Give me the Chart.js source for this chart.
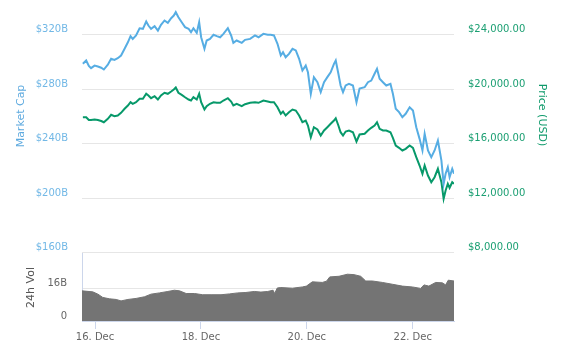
<!DOCTYPE html>
<html>
<head>
<meta charset="utf-8">
<script src="https://cdn.jsdelivr.net/npm/chart.js@4/dist/chart.umd.min.js"></script>
<style>
  html, body { margin: 0; padding: 0; background: #fff; }
  #wrap { position: relative; width: 563px; height: 349px; overflow: hidden; }
  #main { position: absolute; left: 0; top: 0; }
  #vol { position: absolute; left: 0; top: 250px; }
</style>
</head>
<body>
<div id="wrap">
  <canvas id="main" width="563" height="260"></canvas>
  <canvas id="vol" width="563" height="99"></canvas>
</div>
<script>
// Hours since 16 Dec 00:00 for the market-cap / price samples
const hours = [
  -5.5, -4.0, -2.8, -1.8, -0.2, 1.3, 2.8, 4.0, 5.8, 7.3,
  8.8, 10.3, 11.8, 13.4, 14.9, 16.1, 17.1, 18.6, 20.2, 21.7,
  23.2, 24.2, 25.4, 27.0, 28.5, 29.9, 31.5, 33.0, 34.5, 35.7,
  36.6, 37.8, 39.3, 40.8, 42.4, 43.5, 44.6, 46.1, 47.2, 48.1,
  49.6, 50.6, 52.1, 53.7, 55.2, 56.7, 58.2, 60.2, 61.7, 62.7,
  64.2, 66.5, 68.0, 70.3, 72.5, 74.1, 76.3, 78.3, 79.6, 81.1,
  82.7, 84.2, 85.2, 86.4, 87.9, 89.5, 91.0, 92.5, 94.0, 95.5,
  96.5, 97.8, 99.2, 100.8, 102.3, 103.8, 105.3, 106.8, 108.3, 109.1,
  110.3, 111.3, 112.4, 113.6, 115.1, 116.9, 118.5, 119.9, 122.2, 123.7,
  125.2, 126.7, 127.8, 129.0, 130.5, 132.0, 133.9, 135.0, 136.3, 137.8,
  139.3, 140.8, 142.6, 144.1, 145.6, 147.1, 148.4, 149.4, 150.9, 152.4,
  153.9, 155.4, 156.2, 157.0, 158.0, 158.9, 159.9, 160.7, 161.9, 162.7
];

// Market capitalisation, billions of USD
const marketCapB = [
  298.5, 300.9, 296.9, 295.3, 297.2, 296.5, 295.6, 294.3, 297.8, 302.2,
  301.4, 302.6, 304.6, 309.5, 314.3, 318.8, 316.8, 319.3, 324.6, 324.2,
  329.5, 326.6, 324.2, 326.1, 322.9, 327.1, 330.3, 328.6, 332.0, 333.9,
  336.4, 332.7, 329.0, 325.4, 324.2, 321.7, 324.6, 321.2, 329.0, 318.0,
  309.5, 315.6, 316.8, 319.8, 318.8, 318.0, 320.5, 324.6, 319.3, 313.9,
  315.6, 313.9, 316.1, 316.8, 319.3, 318.0, 320.5, 319.8, 319.8, 319.3,
  313.2, 304.6, 307.0, 303.3, 305.8, 309.5, 308.3, 302.2, 293.6, 297.2,
  292.3, 276.5, 288.7, 285.0, 277.7, 285.0, 288.7, 292.3, 298.5, 300.9,
  291.2, 282.6, 277.7, 282.6, 283.8, 282.6, 270.3, 280.4, 281.3, 285.0,
  286.2, 291.2, 294.8, 287.5, 285.0, 282.6, 283.8, 276.5, 265.5, 263.0,
  259.3, 261.8, 266.6, 264.2, 252.0, 243.4, 234.9, 247.1, 234.9, 229.9,
  234.9, 242.2, 234.9, 227.5, 210.4, 217.8, 222.6, 215.3, 221.4, 217.8
];

// Price, USD
const priceUsd = [
  17930, 17930, 17725, 17725, 17762, 17725, 17651, 17563, 17813, 18106,
  18004, 18055, 18253, 18547, 18789, 19031, 18914, 19031, 19281, 19281,
  19648, 19523, 19325, 19472, 19229, 19523, 19721, 19648, 19817, 19963,
  20110, 19721, 19574, 19398, 19229, 19156, 19398, 19229, 19648, 19031,
  18495, 18738, 18914, 19031, 18987, 18987, 19156, 19325, 19083, 18789,
  18914, 18738, 18884, 18987, 19031, 18987, 19156, 19083, 19031, 19031,
  18664, 18180, 18349, 18055, 18297, 18495, 18422, 18055, 17563, 17688,
  17321, 16462, 17196, 17028, 16587, 16954, 17196, 17446, 17688, 17857,
  17321, 16829, 16587, 16881, 16954, 16829, 16147, 16661, 16712, 16954,
  17152, 17321, 17563, 17079, 16954, 16954, 16829, 16418, 15853, 15684,
  15486, 15610, 15853, 15684, 14995, 14385, 13776, 14385, 13651, 13159,
  13527, 14143, 13651, 13159, 11941, 12550, 13042, 12749, 13159, 13042
];

// 24h trading volume, billions of USD
const volHours = [
  -5.9, -1.0, 1.3, 3.5, 6.6, 9.6, 11.8, 14.9, 18.6, 22.4,
  25.4, 29.2, 33.0, 36.0, 38.3, 41.3, 45.1, 48.8, 52.6, 57.1,
  60.9, 64.7, 68.4, 72.2, 75.2, 78.3, 80.7, 81.4, 82.6, 84.2,
  89.5, 94.0, 95.8, 98.5, 103.0, 104.9, 106.4, 110.6, 114.4, 117.4,
  120.4, 122.7, 125.7, 130.2, 134.8, 139.3, 143.8, 147.6, 149.1, 151.3,
  154.4, 157.4, 158.9, 160.1, 162.7
];
const volumeB = [
  14.7, 14.2, 13.1, 11.5, 10.8, 10.5, 9.8, 10.5, 11.0, 11.8,
  13.1, 13.7, 14.4, 15.0, 14.7, 13.4, 13.4, 12.8, 12.8, 12.8,
  13.2, 13.7, 13.9, 14.4, 14.1, 14.4, 15.0, 13.4, 16.1, 16.3,
  16.0, 16.6, 17.0, 19.1, 18.8, 19.4, 21.5, 21.8, 22.8, 22.6,
  21.8, 19.5, 19.5, 18.8, 17.9, 17.0, 16.6, 15.9, 17.6, 17.0,
  18.8, 18.6, 17.6, 19.9, 19.5
];

// Axis tick values and labels
const mcapTicks = [160, 200, 240, 280, 320];
const priceTicks = [8000, 12000, 16000, 20000, 24000];
const volTicks = [0, 16];
const dayTicks = [0, 48, 96, 144];
const dayLabels = ['16. Dec', '18. Dec', '20. Dec', '22. Dec'];

const X_MIN = -5.9, X_MAX = 162.7;
const FONT_FAMILY = "'DejaVu Sans', sans-serif";
const BLUE = '#56ade3';
const BLUE_TEXT = '#72b8e6';
const GREEN = '#07996a';
const GREEN_TEXT = '#1b9f72';
const GREY_TEXT = '#666666';
const VOL_FILL = '#747474';
const GRID = '#e6e6e6';
const AXIS_LINE = '#ccd6eb';

// Rotated axis titles drawn straight onto the canvas
const axisTitles = {
  id: 'axisTitles',
  afterDraw(chart, args, opts) {
    const ctx = chart.ctx;
    (opts.items || []).forEach(t => {
      ctx.save();
      ctx.translate(t.x, t.y);
      ctx.rotate(t.angle);
      ctx.font = t.font;
      ctx.fillStyle = t.color;
      ctx.textAlign = 'center';
      ctx.textBaseline = 'middle';
      ctx.fillText(t.text, 0, 0);
      ctx.restore();
    });
  }
};

const noPadV = s => { s.paddingTop = 0; s.paddingBottom = 0; };
const fixedTicks = values => s => { s.ticks = values.map(v => ({ value: v })); };

new Chart(document.getElementById('main'), {
  type: 'line',
  data: {
    datasets: [
      {
        label: 'Market Cap',
        data: hours.map((h, i) => ({ x: h, y: marketCapB[i] })),
        yAxisID: 'mcap',
        borderColor: BLUE,
        borderWidth: 2,
        pointRadius: 0,
        tension: 0
      },
      {
        label: 'Price (USD)',
        data: hours.map((h, i) => ({ x: h, y: priceUsd[i] })),
        yAxisID: 'price',
        borderColor: GREEN,
        borderWidth: 2,
        pointRadius: 0,
        tension: 0
      }
    ]
  },
  options: {
    responsive: false,
    animation: false,
    devicePixelRatio: 1,
    layout: { padding: { top: 2.5, bottom: 7.5, left: 0, right: 0 } },
    plugins: {
      legend: { display: false },
      tooltip: { enabled: false },
      axisTitles: {
        items: [
          { text: 'Market Cap', x: 21, y: 116, angle: -Math.PI / 2, color: '#5eaadf', font: "11px " + FONT_FAMILY },
          { text: 'Price (USD)', x: 541.5, y: 115, angle: Math.PI / 2, color: '#0f9a6b', font: "11px " + FONT_FAMILY }
        ]
      }
    },
    scales: {
      x: { type: 'linear', min: X_MIN, max: X_MAX, display: false },
      mcap: {
        position: 'left',
        min: 160,
        max: 343.5,
        afterBuildTicks: fixedTicks(mcapTicks),
        afterFit: s => { s.width = 82; noPadV(s); },
        ticks: {
          padding: 14,
          labelOffset: -5,
          color: BLUE_TEXT,
          font: { family: FONT_FAMILY, size: 10 },
          callback: v => '$' + v + 'B'
        },
        grid: { color: GRID, drawTicks: false },
        border: { display: false }
      },
      price: {
        position: 'right',
        min: 8000,
        max: 26350,
        afterBuildTicks: fixedTicks(priceTicks),
        afterFit: s => { s.width = 109; noPadV(s); },
        ticks: {
          padding: 14,
          labelOffset: -5,
          color: GREEN_TEXT,
          font: { family: FONT_FAMILY, size: 10 },
          callback: v => '$' + Number(v).toLocaleString('en-US', { minimumFractionDigits: 2, maximumFractionDigits: 2 })
        },
        grid: { display: false, drawTicks: false },
        border: { display: false }
      }
    }
  },
  plugins: [axisTitles]
});

new Chart(document.getElementById('vol'), {
  type: 'line',
  data: {
    datasets: [{
      label: '24h Vol',
      data: volHours.map((h, i) => ({ x: h, y: volumeB[i] })),
      fill: 'origin',
      backgroundColor: VOL_FILL,
      borderColor: VOL_FILL,
      borderWidth: 1,
      pointRadius: 0,
      tension: 0
    }]
  },
  options: {
    responsive: false,
    animation: false,
    devicePixelRatio: 1,
    layout: { padding: { top: 3.3, right: 109, bottom: 0, left: 0 } },
    plugins: {
      legend: { display: false },
      tooltip: { enabled: false },
      axisTitles: {
        items: [
          { text: '24h Vol', x: 31.5, y: 37.5, angle: -Math.PI / 2, color: '#555555', font: "11px " + FONT_FAMILY }
        ]
      }
    },
    scales: {
      x: {
        type: 'linear',
        min: X_MIN,
        max: X_MAX,
        afterBuildTicks: fixedTicks(dayTicks),
        afterFit: s => { s.height = 28; s.paddingLeft = 0; s.paddingRight = 0; },
        ticks: {
          autoSkip: false,
          maxRotation: 0,
          padding: 2,
          color: GREY_TEXT,
          font: { family: FONT_FAMILY, size: 10 },
          callback: (v, i) => dayLabels[i]
        },
        grid: { drawOnChartArea: false, drawTicks: true, tickLength: 8, color: AXIS_LINE },
        border: { display: true, color: AXIS_LINE }
      },
      y: {
        position: 'left',
        min: 0,
        max: 33,
        afterBuildTicks: fixedTicks(volTicks),
        afterFit: s => { s.width = 82; noPadV(s); },
        ticks: {
          padding: 15,
          labelOffset: -5,
          color: GREY_TEXT,
          font: { family: FONT_FAMILY, size: 10 },
          callback: v => (v === 0 ? '0' : v + 'B')
        },
        grid: {
          drawTicks: false,
          color: c => (c.tick && c.tick.value === 0 ? 'rgba(0,0,0,0)' : GRID)
        },
        border: { display: true, color: AXIS_LINE }
      }
    }
  },
  plugins: [axisTitles]
});
</script>
</body>
</html>
